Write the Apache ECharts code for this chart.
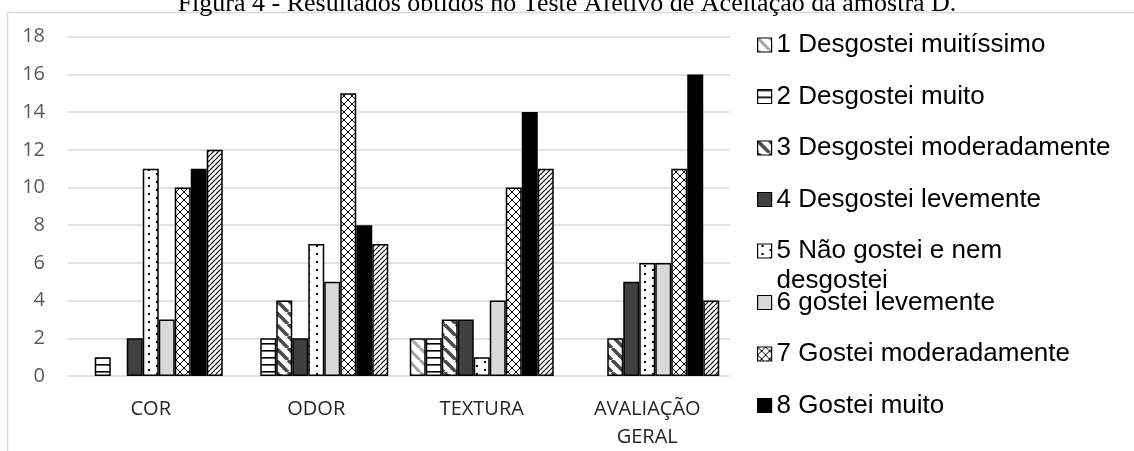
<!DOCTYPE html>
<html>
<head>
<meta charset="utf-8">
<title>Teste Afetivo de Aceitação - amostra D</title>
<script src="https://cdn.jsdelivr.net/npm/echarts@6/dist/echarts.min.js"></script>
<style>
  html, body { margin: 0; padding: 0; background: #fff; }
  #chart { width: 1134px; height: 451px; }
</style>
</head>
<body>
<div id="chart"></div>
<script>
// Categories evaluated
const categories = ['COR', 'ODOR', 'TEXTURA', 'AVALIAÇÃO GERAL'];

// Number of panelists per hedonic score, one array per score
const score1 = [0, 0, 2, 0];
const score2 = [1, 2, 2, 0];
const score3 = [0, 4, 3, 2];
const score4 = [2, 2, 3, 5];
const score5 = [11, 7, 1, 6];
const score6 = [3, 5, 4, 6];
const score7 = [10, 15, 10, 11];
const score8 = [11, 8, 14, 16];
const score9 = [12, 7, 11, 4];

const seriesNames = [
  '1 Desgostei muitíssimo',
  '2 Desgostei muito',
  '3 Desgostei moderadamente',
  '4 Desgostei levemente',
  '5 Não gostei e nem desgostei',
  '6 gostei levemente',
  '7 Gostei moderadamente',
  '8 Gostei muito',
  '9 Gostei muitíssimo'
];
const seriesValues = [score1, score2, score3, score4, score5, score6, score7, score8, score9];

// Value axis ticks
const yMin = 0, yMax = 18, yStep = 2;

// ---- fill patterns ----
function tile(w, h, draw) {
  const c = document.createElement('canvas');
  c.width = w; c.height = h;
  const ctx = c.getContext('2d');
  ctx.fillStyle = '#ffffff';
  ctx.fillRect(0, 0, w, h);
  draw(ctx, w, h);
  return { image: c, repeat: 'repeat' };
}
function backslash(color, width, s) {
  return tile(s, s, function (ctx) {
    ctx.strokeStyle = color; ctx.lineWidth = width;
    for (let o = -s; o <= s; o += s) {
      ctx.beginPath(); ctx.moveTo(o, 0); ctx.lineTo(o + s, s); ctx.stroke();
    }
  });
}
function slash(color, width, s) {
  return tile(s, s, function (ctx) {
    ctx.strokeStyle = color; ctx.lineWidth = width;
    for (let o = -s; o <= s; o += s) {
      ctx.beginPath(); ctx.moveTo(o, s); ctx.lineTo(o + s, 0); ctx.stroke();
    }
  });
}
const fills = [
  backslash('#a3a3a3', 3, 12),
  tile(8, 7, function (ctx, w) {
    ctx.fillStyle = '#000'; ctx.fillRect(0, 0, w, 1.6);
  }),
  backslash('#4a4a4a', 3.6, 12),
  '#404040',
  tile(16, 8, function (ctx) {
    ctx.fillStyle = '#000';
    ctx.fillRect(4, 1, 2, 2);
    ctx.fillRect(12, 5, 2, 2);
  }),
  '#d9d9d9',
  tile(8, 8, function (ctx) {
    ctx.strokeStyle = '#000'; ctx.lineWidth = 1;
    ctx.beginPath(); ctx.moveTo(0, 0); ctx.lineTo(8, 8); ctx.stroke();
    ctx.beginPath(); ctx.moveTo(0, 8); ctx.lineTo(8, 0); ctx.stroke();
  }),
  '#000000',
  slash('#000', 1.2, 5)
];

const series = seriesValues.map(function (vals, i) {
  return {
    name: seriesNames[i],
    type: 'bar',
    barWidth: 16,
    barGap: '0%',
    itemStyle: { color: fills[i], borderColor: '#000', borderWidth: 1.5 },
    emphasis: { disabled: true },
    data: vals.map(function (v) {
      return v === 0 ? { value: 0, itemStyle: { borderWidth: 0 } } : v;
    })
  };
});

// One legend block per score so each row sits on its own line;
// the wrapped entry gets a blank leading line so its icon lines up with the first text line
const legendRows = seriesNames.slice(0, 8).map(function (name, i) {
  const centerY = 45 + i * 51.5;
  const wrapped = i === 4;
  return {
    data: [name],
    orient: 'vertical',
    icon: 'rect',
    left: 757,
    top: wrapped ? centerY - 45 : centerY - 15,
    padding: 0,
    itemWidth: 14,
    itemHeight: 14,
    selectedMode: false,
    itemStyle: { borderColor: '#000', borderWidth: 1.2 },
    formatter: wrapped ? function () { return ' \n5 Não gostei e nem\ndesgostei'; } : '{name}',
    textStyle: {
      fontFamily: 'Liberation Sans',
      fontSize: 26,
      color: '#000',
      lineHeight: 30
    }
  };
});

const chart = echarts.init(document.getElementById('chart'), null, { renderer: 'canvas' });
chart.setOption({
  animation: false,
  backgroundColor: '#ffffff',
  graphic: [
    {
      type: 'rect',
      z: 0,
      shape: { x: 7.5, y: 12.5, width: 1200, height: 500 },
      style: { fill: 'none', stroke: '#d9d9d9', lineWidth: 1.5 },
      silent: true
    },
    {
      type: 'text',
      z: 1,
      left: 'center',
      top: -9,
      style: {
        text: 'Figura 4 - Resultados obtidos no Teste Afetivo de Aceitação da amostra D.',
        font: '26px "Liberation Serif"',
        fill: '#000'
      },
      silent: true
    }
  ],
  grid: { left: 68, right: 404, top: 36.7, bottom: 73.3, containLabel: false },
  legend: legendRows,
  xAxis: {
    type: 'category',
    data: categories,
    axisLine: { show: false },
    axisTick: { show: false },
    axisLabel: {
      interval: 0,
      margin: 19,
      fontFamily: 'Open Sans',
      fontSize: 20,
      lineHeight: 28,
      color: '#262626',
      formatter: function (v) { return v.replace(' ', '\n'); }
    }
  },
  yAxis: {
    type: 'value',
    min: yMin,
    max: yMax,
    interval: yStep,
    axisLine: { show: false },
    axisTick: { show: false },
    splitLine: { lineStyle: { color: '#d9d9d9', width: 1.5 } },
    axisLabel: {
      margin: 23,
      fontFamily: 'Open Sans',
      fontSize: 20,
      color: '#595959'
    }
  },
  series: series
});
</script>
</body>
</html>
